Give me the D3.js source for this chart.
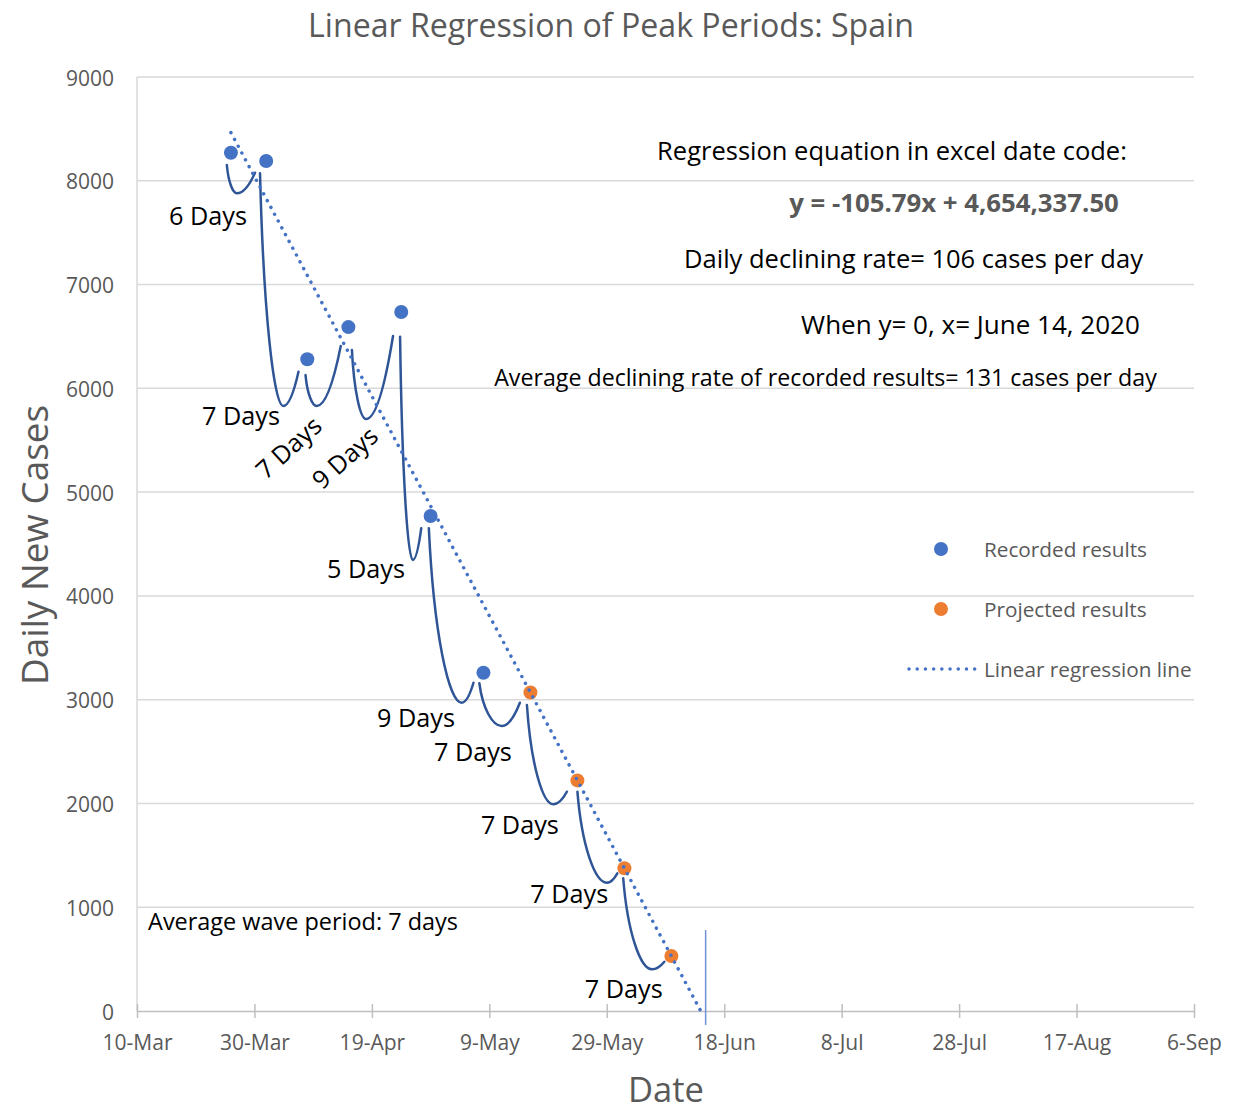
<!DOCTYPE html>
<html><head><meta charset="utf-8">
<script src="https://cdn.jsdelivr.net/npm/d3@7"></script>
<style>
body{margin:0;background:#fff;}
svg{display:block;font-family:"Open Sans","Noto Sans",sans-serif;}
</style>
</head><body>
<svg id="chart" width="1250" height="1111"></svg>
<script>
// ---------- DATA ----------
const xTickLabels = ["10-Mar","30-Mar","19-Apr","9-May","29-May","18-Jun","8-Jul","28-Jul","17-Aug","6-Sep"];
const yTickValues = [0,1000,2000,3000,4000,5000,6000,7000,8000,9000];

const recordedDates  = ["2020-03-26","2020-04-01","2020-04-08","2020-04-15","2020-04-24","2020-04-29","2020-05-08"];
const recordedValues = [8270, 8190, 6280, 6590, 6735, 4770, 3260];

const projectedDates  = ["2020-05-16","2020-05-24","2020-06-01","2020-06-09"];
const projectedValues = [3069, 2222, 1376, 530];

const regressionDates  = ["2020-03-26","2020-06-14"];
const regressionValues = [8464, 0];

// wave annotations (days since 10-Mar, daily cases)
const waveStartDay  = [15.3, 20.95, 28.7, 36.6, 44.8, 49.7, 58.3, 66.4, 75.0, 82.8];
const waveStartVal  = [8152, 8072, 6128, 6369, 6497, 4651, 3158, 2949, 2113, 1279];
const waveTroughDay = [17.0, 24.9, 30.6, 39.0, 46.95, 55.3, 62.1, 70.9, 80.0, 87.7];
const waveTroughVal = [7879, 5830, 5830, 5704, 4346, 2971, 2746, 1992, 1236, 402];
const waveEndDay    = [20.1, 27.5, 34.7, 43.6, 48.4, 57.3, 65.2, 73.2, 81.8, 89.8];
const waveEndVal    = [8078, 6160, 6408, 6504, 4651, 3163, 2971, 2113, 1327, 475];

const waveLabels     = ["6 Days","7 Days","7 Days","9 Days","5 Days","9 Days","7 Days","7 Days","7 Days","7 Days"];
const waveLabelDay   = [12.1, 17.7, 25.7, 35.3, 39.0, 47.5, 57.2, 65.2, 73.6, 82.9];
const waveLabelVal   = [7670, 5743, 5435, 5338, 4269, 2833, 2505, 1802, 1137, 222];
const waveLabelAngle = [0, 0, -42, -42, 0, 0, 0, 0, 0, 0];

const markerDate = "2020-06-14T20:00";
const markerRange = [-135, 780];

const legendLabels = ["Recorded results","Projected results","Linear regression line"];

(function () {
// ---------- LAYOUT ----------
const pLeft = 137, pRight = 1194, pTop = 77, pBottom = 1011;
const grey = "#595959", blue = "#4472C4", orange = "#ED7D31", navy = "#2F5597";

const svg = d3.select("#chart");
const parseD = d3.utcParse("%Y-%m-%d");
const parseT = d3.utcParse("%Y-%m-%dT%H:%M");
const t0 = parseD("2020-03-10"), t1 = parseD("2020-09-06");
const x = d3.scaleUtc().domain([t0, t1]).range([pLeft, pRight]);
const y = d3.scaleLinear().domain([0, 9000]).range([pBottom, pTop]);
const dayToDate = d => new Date(t0.getTime() + d * 864e5);
const xd = d => x(dayToDate(d));

function fit(sel, target) {
  const l = sel.node().getComputedTextLength();
  const fs = parseFloat(sel.attr("font-size"));
  sel.attr("font-size", fs * target / l);
  return fs * target / l;
}

// gridlines
svg.append("g").selectAll("line").data(yTickValues.filter(v => v > 0)).join("line")
  .attr("x1", pLeft).attr("x2", pRight)
  .attr("y1", d => y(d)).attr("y2", d => y(d))
  .attr("stroke", "#d9d9d9").attr("stroke-width", 1.5);
svg.append("line").attr("x1", pLeft).attr("x2", pLeft).attr("y1", y(9000)).attr("y2", y(0))
  .attr("stroke", "#d9d9d9").attr("stroke-width", 1.5);

// x axis
const tickDates = xTickLabels.map(l => d3.utcParse("%d-%b-%Y")(l + "-2020"));
const xAxis = svg.append("g").attr("transform", `translate(0,${pBottom})`)
  .call(d3.axisBottom(x).tickValues(tickDates).tickFormat((d, i) => xTickLabels[i]).tickSizeOuter(0).tickSizeInner(7).tickPadding(12));
xAxis.select(".domain").attr("stroke", "#bfbfbf").attr("stroke-width", 1.5);
xAxis.selectAll(".tick line").attr("y1", -7).attr("y2", 7).attr("stroke", "#bfbfbf").attr("stroke-width", 1.5);
const xt = xAxis.selectAll(".tick text").attr("fill", grey).attr("font-family", "Open Sans")
  .attr("font-size", 20).attr("dy", null).attr("y", 31).attr("dominant-baseline", "central");
const tickFs = fit(xAxis.select(".tick text"), 70);
xt.attr("font-size", tickFs);

// y axis labels
const yAxis = svg.append("g").attr("transform", `translate(${pLeft},0)`)
  .call(d3.axisLeft(y).tickValues(yTickValues).tickFormat(d3.format("d")).tickSize(0).tickPadding(23));
yAxis.select(".domain").remove();
yAxis.selectAll(".tick text").attr("fill", grey).attr("font-family", "Open Sans")
  .attr("font-size", tickFs).attr("dy", null).attr("dominant-baseline", "central");

// waves
const wavePath = i => {
  const sx = xd(waveStartDay[i]), sy = y(waveStartVal[i]);
  const tx = xd(waveTroughDay[i]), ty = y(waveTroughVal[i]);
  const ex = xd(waveEndDay[i]), ey = y(waveEndVal[i]);
  const dx1 = tx - sx, dy1 = ty - sy, dx2 = ex - tx, dy2 = ty - ey;
  return `M${sx},${sy}C${sx + 0.15 * dx1},${sy + 0.6 * dy1} ${tx - 0.4 * dx1},${ty} ${tx},${ty}` +
         `C${tx + 0.45 * dx2},${ty} ${ex - 0.2 * dx2},${ey + 0.4 * dy2} ${ex},${ey}`;
};
svg.append("g").selectAll("path").data(waveStartDay.map((d, i) => i)).join("path")
  .attr("d", wavePath).attr("fill", "none").attr("stroke", navy).attr("stroke-width", 2.5)
  .attr("stroke-linecap", "round");

// marker line
svg.append("line").attr("x1", x(parseT(markerDate))).attr("x2", x(parseT(markerDate)))
  .attr("y1", y(markerRange[1])).attr("y2", y(markerRange[0]))
  .attr("stroke", "#6f93d6").attr("stroke-width", 1.5);

// points
svg.append("g").selectAll("circle").data(recordedDates.map((d, i) => ({d: parseD(d), v: recordedValues[i]}))).join("circle")
  .attr("cx", d => x(d.d)).attr("cy", d => y(d.v)).attr("r", 7).attr("fill", blue);
svg.append("g").selectAll("circle").data(projectedDates.map((d, i) => ({d: parseD(d), v: projectedValues[i]}))).join("circle")
  .attr("cx", d => x(d.d)).attr("cy", d => y(d.v)).attr("r", 7).attr("fill", orange);

// regression line
const reg = regressionDates.map((d, i) => ({d: parseD(d), v: regressionValues[i]}));
svg.append("path").datum(reg)
  .attr("d", d3.line().x(d => x(d.d)).y(d => y(d.v)))
  .attr("fill", "none").attr("stroke", blue).attr("stroke-width", 3.5)
  .attr("stroke-linecap", "round").attr("stroke-dasharray", "0.01 7.7");

// wave labels
const wl = svg.append("g").selectAll("text").data(waveLabels).join("text")
  .attr("transform", (d, i) => `translate(${xd(waveLabelDay[i])},${y(waveLabelVal[i])}) rotate(${waveLabelAngle[i]})`)
  .attr("text-anchor", "middle").attr("dominant-baseline", "central")
  .attr("font-size", 20).attr("fill", "#000").text(d => d);
const wlFs = fit(wl.filter((d, i) => i === 1), 78);
wl.attr("font-size", wlFs);

// free text annotations
function note(txt, cx, cy, w, opts = {}) {
  const t = svg.append("text").attr("x", cx).attr("y", cy)
    .attr("text-anchor", "middle").attr("dominant-baseline", "central")
    .attr("font-size", 20).attr("fill", opts.fill || "#000")
    .attr("font-weight", opts.weight || 400).text(txt);
  if (opts.rotate) t.attr("transform", `rotate(${opts.rotate},${cx},${cy})`);
  fit(t, w);
  return t;
}
note("Linear Regression of Peak Periods: Spain", 611, 24, 606, {fill: grey});
note("Daily New Cases", 34, 545, 280, {fill: grey, rotate: -90});
note("Date", 666, 1088, 76, {fill: grey});
note("Regression equation in excel date code:", 892, 150, 470);
note("y = -105.79x + 4,654,337.50", 954, 202, 330, {fill: grey, weight: 700});
note("Daily declining rate= 106 cases per day", 913.5, 258, 459);
note("When y= 0, x= June 14, 2020", 970.5, 324, 339);
note("Average declining rate of recorded results= 131 cases per day", 825.5, 377, 663);
note("Average wave period: 7 days", 303, 921, 310);

// legend
const lg = svg.append("g");
lg.append("circle").attr("cx", 941).attr("cy", 549).attr("r", 7).attr("fill", blue);
lg.append("circle").attr("cx", 941).attr("cy", 609).attr("r", 7).attr("fill", orange);
lg.append("line").attr("x1", 909).attr("x2", 975).attr("y1", 669).attr("y2", 669)
  .attr("stroke", blue).attr("stroke-width", 3.5).attr("stroke-linecap", "round").attr("stroke-dasharray", "0.01 8.2");
const lt = lg.selectAll("text").data(legendLabels).join("text")
  .attr("x", 984).attr("y", (d, i) => 549 + i * 60).attr("dominant-baseline", "central")
  .attr("font-size", 20).attr("fill", grey).text(d => d);
const lgFs = fit(lt.filter((d, i) => i === 0), 163);
lt.attr("font-size", lgFs);
})();
</script>
</body></html>
